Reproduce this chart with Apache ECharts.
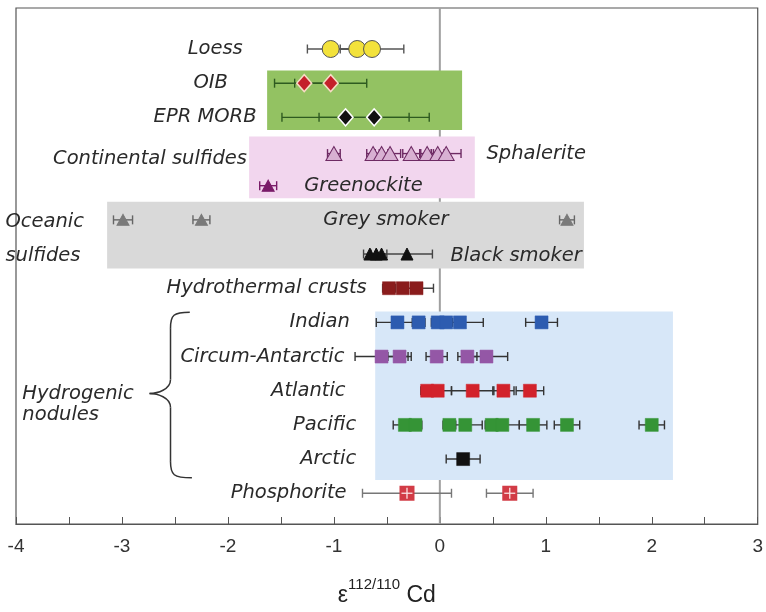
<!DOCTYPE html>
<html><head><meta charset="utf-8">
<script src="https://cdn.jsdelivr.net/npm/echarts/dist/echarts.min.js"></script>
<style>html,body{margin:0;padding:0;background:#fff}#c{width:766px;height:612px}</style>
</head><body><div id="c"></div>
<script>
// ---------- data ----------
const xTicks = [-4, -3, -2, -1, 0, 1, 2, 3];
const rowNames = ['Loess','OIB','EPR MORB','Sphalerite','Greenockite','Grey smoker','Black smoker',
  'Hydrothermal crusts','Indian','Circum-Antarctic','Atlantic','Pacific','Arctic','Phosphorite'];

const loessVal = [-1.03, -0.78, -0.64];            const loessErr = [0.22, 0.20, 0.30];
const oibVal = [-1.28, -1.03];                     const oibErr = [0.28, 0.34];
const morbVal = [-0.89, -0.62];                    const morbErr = [0.60, 0.52];
const sphalVal = [-1.00, -0.63, -0.55, -0.47, -0.27, -0.12, -0.02, 0.06];
const sphalErr = [0.06, 0.06, 0.06, 0.10, 0.08, 0.06, 0.06, 0.14];
const greenVal = [-1.62];                          const greenErr = [0.08];
const greyVal = [-2.99, -2.25, 1.20];              const greyErr = [0.09, 0.08, 0.07];
const blackVal = [-0.66, -0.60, -0.55, -0.31];     const blackErr = [0.06, 0.05, 0.05, 0.24];
const crustVal = [-0.48, -0.35, -0.22];            const crustErr = [0.06, 0.05, 0.16];
const indianVal = [-0.40, -0.20, -0.02, 0.06, 0.19, 0.96];
const indianErr = [0.20, 0.06, 0.06, 0.06, 0.22, 0.15];
const circumVal = [-0.55, -0.38, -0.03, 0.26, 0.44];
const circumErr = [0.25, 0.11, 0.10, 0.09, 0.20];
const atlanticVal = [-0.12, -0.02, 0.31, 0.60, 0.85];
const atlanticErr = [0.06, 0.13, 0.20, 0.10, 0.13];
const pacificVal = [-0.33, -0.23, 0.09, 0.24, 0.49, 0.59, 0.88, 1.20, 2.00];
const pacificErr = [0.11, 0.06, 0.06, 0.16, 0.06, 0.16, 0.13, 0.12, 0.12];
const arcticVal = [0.22];                          const arcticErr = [0.16];
const phosVal = [-0.31, 0.66];                     const phosErr = [0.42, 0.22];

// background boxes (data units)
const boxX0 = [-1.63, -1.80, -3.14, -0.61];
const boxX1 = [0.21, 0.33, 1.36, 2.20];
const boxY0 = [0.63, 2.56, 4.47, 7.68];
const boxY1 = [2.37, 4.37, 6.42, 12.61];

// annotation labels (data units)
const labelText = ['Loess','OIB','EPR MORB','Continental sulfides','Sphalerite','Greenockite','Oceanic','sulfides',
  'Grey smoker','Black smoker','Hydrothermal crusts','Indian','Circum-Antarctic','Atlantic','Pacific','Arctic',
  'Phosphorite','Hydrogenic','nodules'];
const labelX = [-1.86,-2.00,-1.73,-1.82,0.44,-1.28,-4.10,-4.10,-1.10,0.10,-0.69,-0.85,-0.90,-0.89,-0.79,-0.79,-0.88,-3.94,-3.94];
const labelY = [0,1,2,3.21,3.06,4,5.05,6.05,5,6.05,7,8,9,10,11,12,13,10.1,10.72];
const labelAlign = ['right','right','right','right','left','left','left','left','left','left','right','right','right','right','right','right','right','left','left'];

// ---------- styles ----------
const groups = [
  {row:0,  val:loessVal,    err:loessErr,    sym:'circle',   size:17,      fill:'#f3e23b', stroke:'#555',    bw:1,   bar:'#555'},
  {row:1,  val:oibVal,      err:oibErr,      sym:'diamond',  size:[15,17], fill:'#c4202a', stroke:'#f7dcc6', bw:1.5, bar:'#2e5b20'},
  {row:2,  val:morbVal,     err:morbErr,     sym:'diamond',  size:[15,17], fill:'#111',    stroke:'#fff',    bw:1.5, bar:'#2e5b20'},
  {row:3.06,val:sphalVal,   err:sphalErr,    sym:'triangle', size:[16,14], fill:'#d8b0d2', stroke:'#6e2a63', bw:1,   bar:'#6e2a63'},
  {row:4,  val:greenVal,    err:greenErr,    sym:'triangle', size:[12,11], fill:'#7a1b68', stroke:'#7a1b68', bw:1,   bar:'#7a1b68'},
  {row:5,  val:greyVal,     err:greyErr,     sym:'triangle', size:[12,11], fill:'#7a7a7a', stroke:'#7a7a7a', bw:1,   bar:'#666'},
  {row:6,  val:blackVal,    err:blackErr,    sym:'triangle', size:[12,12], fill:'#111',    stroke:'#111',    bw:1,   bar:'#444'},
  {row:7,  val:crustVal,    err:crustErr,    sym:'rect',     size:13,      fill:'#8a1c1c', stroke:'#8a1c1c', bw:0.5, bar:'#444'},
  {row:8,  val:indianVal,   err:indianErr,   sym:'rect',     size:13,      fill:'#2d5cb0', stroke:'#2d5cb0', bw:0.5, bar:'#333'},
  {row:9,  val:circumVal,   err:circumErr,   sym:'rect',     size:13,      fill:'#9457a6', stroke:'#9457a6', bw:0.5, bar:'#333'},
  {row:10, val:atlanticVal, err:atlanticErr, sym:'rect',     size:13,      fill:'#d2222b', stroke:'#d2222b', bw:0.5, bar:'#333'},
  {row:11, val:pacificVal,  err:pacificErr,  sym:'rect',     size:13,      fill:'#359436', stroke:'#359436', bw:0.5, bar:'#333'},
  {row:12, val:arcticVal,   err:arcticErr,   sym:'rect',     size:13,      fill:'#111',    stroke:'#111',    bw:0.5, bar:'#333'},
  {row:13, val:phosVal,     err:phosErr,     sym:'phos',     size:15,      fill:'#d23c46', stroke:'#d23c46', bw:0.5, bar:'#777'}
];
const boxColor = ['#93c262', '#f2d6ee', '#d9d9d9', '#d7e7f8'];
const FONT = 'DejaVu Sans';
const Y_MIN = -1.2, Y_MAX = 13.9;

const chart = echarts.init(document.getElementById('c'), null, {renderer: 'canvas'});

const series = [];
// zero line (behind boxes)
series.push({type:'custom', z:1, silent:true, data:[[0]],
  renderItem:(params, api)=>{
    const a = api.coord([api.value(0), Y_MIN]);
    const b = api.coord([api.value(0), Y_MAX]);
    return {type:'line', shape:{x1:a[0], y1:a[1], x2:b[0], y2:b[1]}, style:{stroke:'#a0a0a0', lineWidth:2}};
  }});
// boxes
series.push({type:'custom', z:2, silent:true,
  data: boxX0.map((v,i)=>[v, boxX1[i], boxY0[i], boxY1[i]]),
  renderItem:(params, api)=>{
    const p0 = api.coord([api.value(0), api.value(2)]);
    const p1 = api.coord([api.value(1), api.value(3)]);
    return {type:'rect', shape:{x:p0[0], y:p0[1], width:p1[0]-p0[0], height:p1[1]-p0[1]},
      style:{fill: boxColor[params.dataIndex]}};
  }});
// error bars + markers
groups.forEach(g=>{
  series.push({type:'custom', z:3, silent:true,
    data: g.val.map((v,i)=>[v - g.err[i], v + g.err[i], g.row]),
    renderItem:(params, api)=>{
      const lo = api.coord([api.value(0), api.value(2)]);
      const hi = api.coord([api.value(1), api.value(2)]);
      const h = 4.5, st = {stroke:g.bar, lineWidth:1.4};
      return {type:'group', children:[
        {type:'line', shape:{x1:lo[0],y1:lo[1],x2:hi[0],y2:hi[1]}, style:st},
        {type:'line', shape:{x1:lo[0],y1:lo[1]-h,x2:lo[0],y2:lo[1]+h}, style:st},
        {type:'line', shape:{x1:hi[0],y1:hi[1]-h,x2:hi[0],y2:hi[1]+h}, style:st}
      ]};
    }});
  if (g.sym === 'phos') {
    series.push({type:'custom', z:4, silent:true,
      data: g.val.map(v=>[v, g.row]),
      renderItem:(params, api)=>{
        const p = api.coord([api.value(0), api.value(1)]);
        const s = g.size, hs = s/2;
        return {type:'group', children:[
          {type:'rect', shape:{x:p[0]-hs, y:p[1]-hs, width:s, height:s}, style:{fill:g.fill}},
          {type:'line', shape:{x1:p[0]-hs+2,y1:p[1],x2:p[0]+hs-2,y2:p[1]}, style:{stroke:'#fbe3e3', lineWidth:1.3}},
          {type:'line', shape:{x1:p[0],y1:p[1]-hs+2,x2:p[0],y2:p[1]+hs-2}, style:{stroke:'#fbe3e3', lineWidth:1.3}}
        ]};
      }});
  } else {
    series.push({type:'scatter', z:4, silent:true, symbol:g.sym, symbolSize:g.size,
      data: g.val.map(v=>[v, g.row]),
      itemStyle:{color:g.fill, borderColor:g.stroke, borderWidth:g.bw, opacity:1}});
  }
});

const option = {
  animation:false,
  backgroundColor:'#fff',
  grid:{left:16, right:8, top:8, bottom:84, show:true, borderColor:'#555', borderWidth:1.2},
  xAxis:{type:'value', min:xTicks[0], max:xTicks[xTicks.length-1], interval:1,
    axisLine:{show:true, onZero:false, lineStyle:{color:'#555', width:1.2}},
    axisTick:{show:true, inside:true, length:7, lineStyle:{color:'#555', width:1}},
    minorTick:{show:true, splitNumber:2, length:7, lineStyle:{color:'#555', width:1}},
    splitLine:{show:false},
    axisLabel:{fontFamily:'Liberation Sans', fontSize:19, color:'#333', margin:13},
    name:'{e|ε}{s|112/110}{c| Cd}', nameLocation:'middle', nameGap:53,
    nameTextStyle:{rich:{
      e:{fontFamily:'Liberation Sans', fontSize:23, color:'#222', lineHeight:30, verticalAlign:'bottom'},
      s:{fontFamily:'Liberation Sans', fontSize:15, color:'#222', lineHeight:30, verticalAlign:'top'},
      c:{fontFamily:'Liberation Sans', fontSize:23, color:'#222', lineHeight:30, verticalAlign:'bottom'}
    }}},
  yAxis:{type:'value', inverse:true, min:Y_MIN, max:Y_MAX, show:false},
  series: series
};
chart.setOption(option);

// annotation labels & brace
const gfx = labelText.map((t,i)=>{
  const p = chart.convertToPixel({gridIndex:0}, [labelX[i], labelY[i]]);
  return {type:'text', x:p[0], y:p[1], z:10, silent:true,
    style:{text:t, fontFamily:FONT, fontStyle:'italic', fontSize:19.5, fill:'#2a2a2a',
      textAlign:labelAlign[i], textVerticalAlign:'middle'}};
});
const bTop = chart.convertToPixel({gridIndex:0}, [-2.36, 7.7]);
const bBot = chart.convertToPixel({gridIndex:0}, [-2.34, 12.55]);
const bTip = chart.convertToPixel({gridIndex:0}, [-2.74, 10.08]);
const bx = bTip[0] + 21;
const bst = {stroke:'#333', lineWidth:1.5, fill:'none'};
gfx.push({type:'group', z:10, silent:true, children:[
  {type:'bezierCurve', shape:{x1:bTop[0], y1:bTop[1], cpx1:bx+3, cpy1:bTop[1], cpx2:bx, cpy2:bTop[1]+3, x2:bx, y2:bTop[1]+16}, style:bst},
  {type:'line', shape:{x1:bx, y1:bTop[1]+16, x2:bx, y2:bTip[1]-14}, style:bst},
  {type:'bezierCurve', shape:{x1:bx, y1:bTip[1]-14, cpx1:bx, cpy1:bTip[1]-4, cpx2:bTip[0]+8, cpy2:bTip[1], x2:bTip[0], y2:bTip[1]}, style:bst},
  {type:'bezierCurve', shape:{x1:bTip[0], y1:bTip[1], cpx1:bTip[0]+8, cpy1:bTip[1], cpx2:bx, cpy2:bTip[1]+4, x2:bx, y2:bTip[1]+14}, style:bst},
  {type:'line', shape:{x1:bx, y1:bTip[1]+14, x2:bx, y2:bBot[1]-16}, style:bst},
  {type:'bezierCurve', shape:{x1:bx, y1:bBot[1]-16, cpx1:bx, cpy1:bBot[1]-3, cpx2:bx+3, cpy2:bBot[1], x2:bBot[0], y2:bBot[1]}, style:bst}
]});
chart.setOption({graphic: gfx});
</script>
</body></html>
